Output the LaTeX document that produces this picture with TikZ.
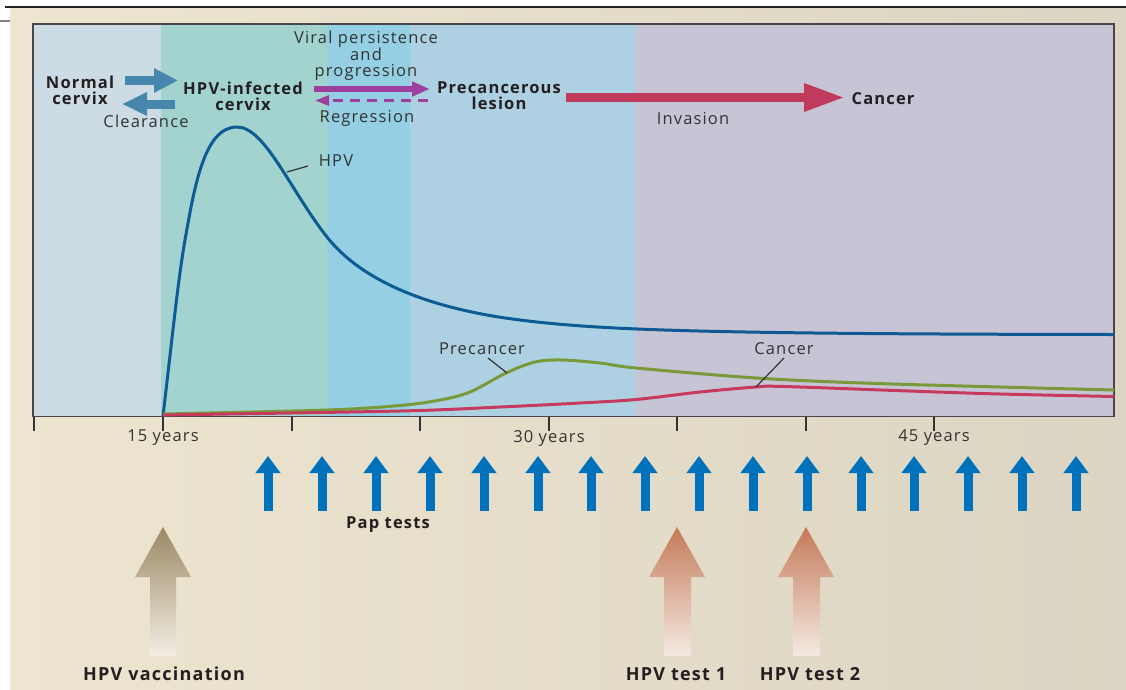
\documentclass[tikz,border=0pt]{standalone}
\usepackage{fontspec}
\setmainfont{Open Sans}[LetterSpace=7]
\usetikzlibrary{arrows.meta}
\definecolor{bgL}{HTML}{EDE5CF}
\definecolor{bgR}{HTML}{DCD5C3}
\definecolor{bandA}{HTML}{CDDBE5}
\definecolor{bandB}{HTML}{A3D3CE}
\definecolor{bandC}{HTML}{94CFE3}
\definecolor{bandD}{HTML}{ADD1E2}
\definecolor{bandE}{HTML}{C7C4D6}
\definecolor{hpvblue}{HTML}{0D5A94}
\definecolor{precgreen}{HTML}{7A9A3A}
\definecolor{cancred}{HTML}{C73A5E}
\definecolor{papblue}{HTML}{0072BB}
\definecolor{steel}{HTML}{4787AD}
\definecolor{purp}{HTML}{9E3FA0}
\definecolor{invred}{HTML}{C03A5C}
\definecolor{txt}{HTML}{231F20}
\definecolor{txtg}{HTML}{333333}
\definecolor{vacTop}{HTML}{9C8864}
\definecolor{vacBot}{HTML}{F3EEE4}
\definecolor{tstTop}{HTML}{C47A58}
\definecolor{tstBot}{HTML}{F4EAE2}
\tikzset{
  lab/.style={font=\fontsize{16.5}{15.8}\selectfont, text=txtg, inner sep=0pt, align=center},
  blab/.style={font=\fontsize{16.5}{15.8}\selectfont\bfseries, text=txt, inner sep=0pt, align=center},
  bigblab/.style={font=\fontsize{18}{19}\selectfont\bfseries, text=txt, inner sep=0pt, align=center},
  curve/.style={line width=3pt},
  leader/.style={draw=txtg, line width=1.2pt},
  tick/.style={draw=txtg, line width=2pt},
  paparrow/.style={draw=papblue, line width=9pt, -{Triangle[length=17pt,width=24pt]}},
}
\begin{document}
\begin{tikzpicture}[x=1pt,y=-1pt]
\useasboundingbox (0,0) rectangle (1126,689);
% background
\shade[left color=bgL, right color=bgR] (10,8) rectangle (1126,689);
\draw[color=txt, line width=1.5pt] (5,7) -- (1126,7);
\draw[color=gray, line width=2pt] (0,21) -- (10,21);
% bands
\fill[bandA] (33,24) rectangle (161,416.5);
\fill[bandB] (161,24) rectangle (327,416.5);
\fill[bandC] (327,24) rectangle (410,416.5);
\fill[bandD] (410,24) rectangle (636,416.5);
\fill[bandE] (636,24) rectangle (1114,416.5);
\draw[color=txtg!90, line width=1.5pt] (33,24) rectangle (1114,416.5);
% ticks
\foreach \t in {34,163,292,420,549,677,806,934}
  \draw[tick] (\t,416.5) -- (\t,431);
\node[lab] (y15) at (163,438) {15 years};
\node[lab] (y30) at (549,438) {30 years};
\node[lab] (y45) at (934,438) {45 years};
% curves
\draw[hpvblue, curve] (163,416) .. controls (172,340) and (178,280) .. (185,240)
  .. controls (195,183) and (205,127) .. (237,127)
  .. controls (265,127) and (290,190) .. (327,237)
  .. controls (350,266) and (400,305) .. (520,320)
  .. controls (600,330) and (700,334) .. (1114,334.5);
\draw[precgreen, curve, smooth, tension=0.55] plot coordinates {(163,414) (327,410) (400,405.5) (440,400) (470,392) (506,373) (535,362) (562,360) (600,363) (636,368) (756,378) (863,383) (1000,387) (1114,390)};
\draw[cancred, curve, smooth, tension=0.55] plot coordinates {(163,415) (400,411) (500,407) (580,403) (636,399.5) (700,392) (756,387) (784,386.5) (909,391) (1000,394) (1114,396.5)};
% curve labels
\node[lab] (hpvlab) at (336,161) {HPV};
\node[lab] (preclab) at (482,349) {Precancer};
\node[lab] (canclab) at (784,349) {Cancer};
\coordinate (hpvA) at (308,166); \coordinate (hpvB) at (287,172);
\coordinate (preA) at (488,358); \coordinate (preB) at (507,373);
\coordinate (canA) at (784,358); \coordinate (canB) at (756,387);
\draw[leader] (hpvA) -- (hpvB);
\draw[leader] (preA) -- (preB);
\draw[leader] (canA) -- (canB);
% top stages
\node[blab] (normal) at (80,90.5) {Normal\\cervix};
\node[blab] (infected) at (243,96) {HPV-infected\\cervix};
\node[blab] (lesion) at (499,96) {Precancerous\\lesion};
\node[blab] (cancer) at (883,99) {Cancer};
\node[lab] (clear) at (146,121.5) {Clearance};
\node[lab] (viral) at (366,55.5) {Viral persistence\\and\\progression};
\node[lab] (regr) at (367,118.5) {Regression};
\node[lab] (inv) at (693,118.5) {Invasion};
\coordinate (s1a) at (125,80.5); \coordinate (s1b) at (178,80.5);
\coordinate (s2a) at (175,104); \coordinate (s2b) at (122,104);
\draw[steel, line width=9pt, -{Triangle[length=24pt,width=23pt]}] (s1a) -- (s1b);
\draw[steel, line width=9pt, -{Triangle[length=25pt,width=22pt]}] (s2a) -- (s2b);
\coordinate (p1a) at (314,89); \coordinate (p1b) at (430,89);
\coordinate (p2a) at (428,100.5); \coordinate (p2b) at (315,100.5);
\draw[purp, line width=5.5pt, -{Triangle[length=18pt,width=14pt]}] (p1a) -- (p1b);
\draw[purp, line width=3pt, dash pattern=on 10pt off 7pt, -{Triangle[length=14pt,width=10pt]}] (p2a) -- (p2b);
\coordinate (r1a) at (566,97.5); \coordinate (r1b) at (845,97.5);
\draw[invred, line width=9pt, -{Triangle[length=41pt,width=26pt]}] (r1a) -- (r1b);
% pap tests
\foreach \x in {268,322,376,430,484,538,591,645,699,753,807,861,914,968,1022,1076}
  \draw[paparrow] (\x,511) -- (\x,456);
\node[blab] (pap) at (388,524.5) {Pap tests};
% bottom arrows
\shade[top color=vacTop, bottom color=vacBot] (163,527) -- (191,577) -- (176,577) -- (176,656) -- (150,656) -- (150,577) -- (135,577) -- cycle;
\shade[top color=tstTop, bottom color=tstBot] (677,527) -- (705,577) -- (691,577) -- (691,656) -- (664,656) -- (664,577) -- (649,577) -- cycle;
\shade[top color=tstTop, bottom color=tstBot] (806,527) -- (834,577) -- (820,577) -- (820,656) -- (793,656) -- (793,577) -- (778,577) -- cycle;
\node[bigblab] (vac) at (164,674) {HPV vaccination};
\node[bigblab] (test1) at (676,674) {HPV test 1};
\node[bigblab] (test2) at (810,674) {HPV test 2};
\end{tikzpicture}
\end{document}
